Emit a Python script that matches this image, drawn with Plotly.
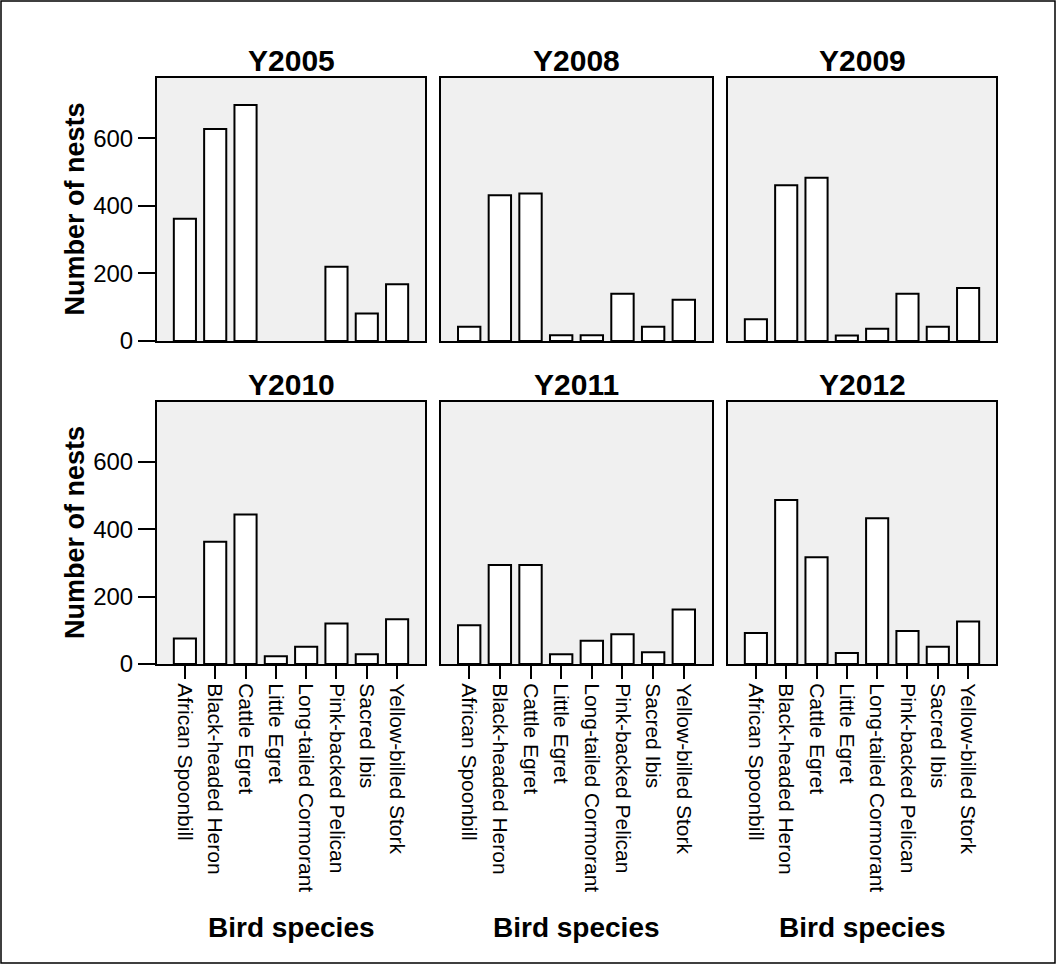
import plotly.graph_objects as go

species = ["African Spoonbill", "Black-headed Heron", "Cattle Egret", "Little Egret",
           "Long-tailed Cormorant", "Pink-backed Pelican", "Sacred Ibis", "Yellow-billed Stork"]
years = ["Y2005", "Y2008", "Y2009", "Y2010", "Y2011", "Y2012"]
y2005 = [362, 627, 698, None, None, 220, 81, 168]
y2008 = [42, 431, 436, 17, 17, 140, 42, 122]
y2009 = [64, 461, 483, 16, 36, 140, 42, 157]
y2010 = [76, 363, 444, 23, 51, 120, 29, 133]
y2011 = [115, 294, 294, 29, 69, 88, 35, 162]
y2012 = [92, 487, 317, 33, 433, 98, 51, 126]
y_ticks = [0, 200, 400, 600]

series = [y2005, y2008, y2009, y2010, y2011, y2012]

W, H = 1057, 965
L, R, T, B = 157, 61, 78, 301
PW, PH = W - L - R, H - T - B

def px_x(px):
    return (px - L) / PW

def px_y(py):
    return (H - B - py) / PH

xdoms = [[px_x(157), px_x(425)], [px_x(441), px_x(712)], [px_x(728), px_x(996)]]
ydoms = [[px_y(341), px_y(78)], [px_y(664), px_y(402)]]

FONT = "Liberation Sans, Arial, Helvetica, sans-serif"

fig = go.Figure()
layout = dict(
    width=W, height=H,
    margin=dict(l=L, r=R, t=T, b=B),
    paper_bgcolor="white",
    plot_bgcolor="#f0f0f0",
    showlegend=False,
    font=dict(family=FONT, color="black"),
)

annotations = []
for i, (yr, vals) in enumerate(zip(years, series)):
    row, col = divmod(i, 3)
    n = i + 1
    xa = "x" if n == 1 else f"x{n}"
    ya = "y" if n == 1 else f"y{n}"
    fig.add_trace(go.Bar(
        x=species, y=vals, xaxis=xa, yaxis=ya, width=0.73,
        marker=dict(color="white", line=dict(color="black", width=2)),
    ))
    bottom = row == 1
    left = col == 0
    layout["xaxis" if n == 1 else f"xaxis{n}"] = dict(
        domain=xdoms[col], anchor=ya, type="category",
        categoryorder="array", categoryarray=species,
        range=[-0.92, 7.92], showgrid=False, zeroline=False,
        showline=True, mirror=True, linecolor="black", linewidth=2,
        ticks="outside" if bottom else "", ticklen=13, tickwidth=2, tickcolor="black",
        showticklabels=bottom, tickangle=90,
        tickfont=dict(family=FONT, size=21, color="black"),
    )
    layout["yaxis" if n == 1 else f"yaxis{n}"] = dict(
        domain=ydoms[row], anchor=xa, range=[0, 778],
        showgrid=False, zeroline=False,
        showline=True, mirror=True, linecolor="black", linewidth=2,
        tickmode="array", tickvals=y_ticks,
        ticks="outside" if left else "", ticklen=17, tickwidth=2, tickcolor="black",
        showticklabels=left,
        tickfont=dict(family=FONT, size=24, color="black"),
    )
    annotations.append(dict(
        text=yr, xref="paper", yref="paper",
        x=(xdoms[col][0] + xdoms[col][1]) / 2,
        y=px_y(61 if row == 0 else 384),
        xanchor="center", yanchor="middle", showarrow=False,
        font=dict(family=FONT, size=30, color="black", weight="bold"),
    ))

for row in range(2):
    annotations.append(dict(
        text="Number of nests", xref="paper", yref="paper",
        x=px_x(75), y=(ydoms[row][0] + ydoms[row][1]) / 2,
        xanchor="center", yanchor="middle", textangle=-90, showarrow=False,
        font=dict(family=FONT, size=27, color="black", weight="bold"),
    ))
for col in range(3):
    annotations.append(dict(
        text="Bird species", xref="paper", yref="paper",
        x=(xdoms[col][0] + xdoms[col][1]) / 2, y=px_y(927),
        xanchor="center", yanchor="middle", showarrow=False,
        font=dict(family=FONT, size=28, color="black", weight="bold"),
    ))

layout["annotations"] = annotations
layout["shapes"] = [dict(
    type="rect", xref="paper", yref="paper",
    x0=px_x(1), x1=px_x(1055), y0=px_y(963), y1=px_y(1),
    line=dict(color="black", width=1.5), fillcolor="rgba(0,0,0,0)", layer="above",
)]

fig.update_layout(**layout)
fig.write_html(
    "out.html",
    config={"displayModeBar": False},
    post_script="document.body.style.margin='0px';document.body.style.overflow='hidden';",
)
